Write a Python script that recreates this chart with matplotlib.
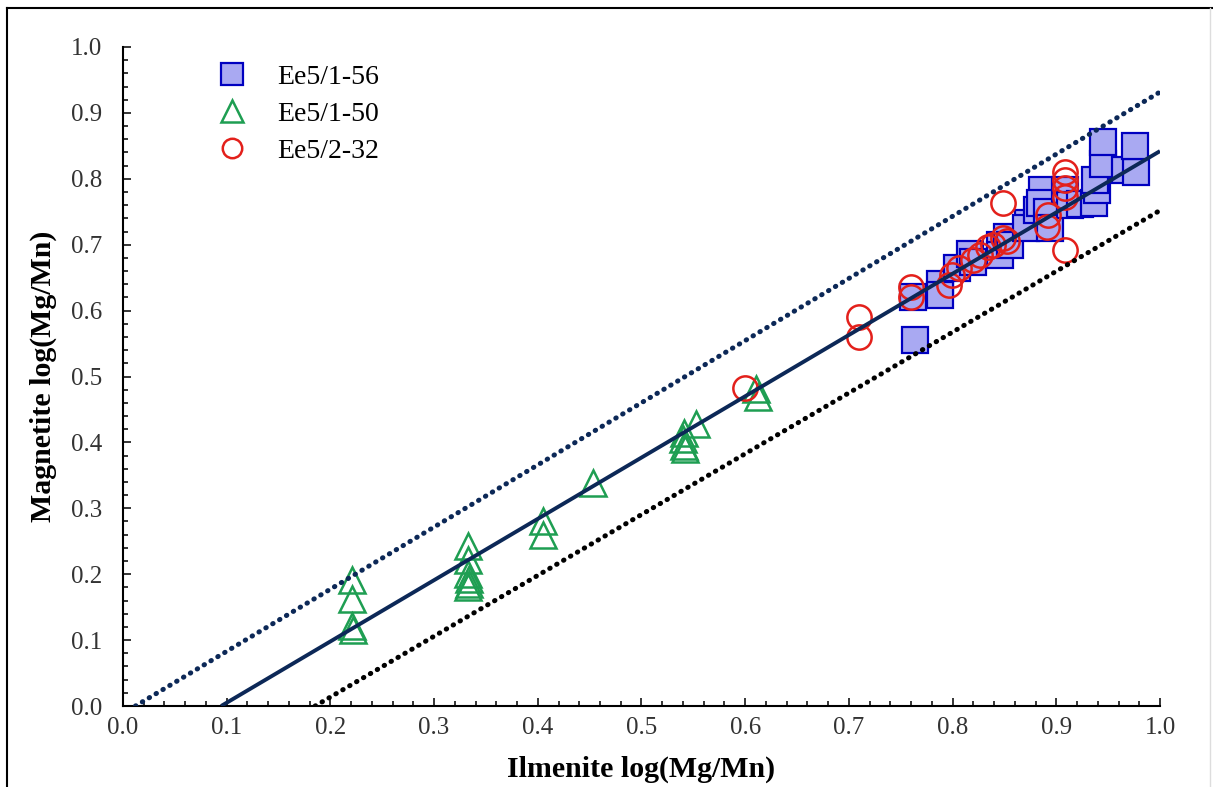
import matplotlib
matplotlib.use("Agg")
import matplotlib.pyplot as plt
from matplotlib.lines import Line2D
from matplotlib.ticker import MultipleLocator, FormatStrFormatter
import numpy as np

plt.rcParams['font.family'] = ['Liberation Serif', 'DejaVu Serif']

# Ee5/1-56 (carrés)
sq_x = [0.764, 0.762, 0.788, 0.788, 0.804, 0.817, 0.820, 0.846, 0.846, 0.852,
        0.855, 0.873, 0.871, 0.881, 0.886, 0.884, 0.891, 0.894, 0.908, 0.913,
        0.923, 0.936, 0.939, 0.937, 0.945, 0.945, 0.966, 0.977, 0.976]
sq_y = [0.555, 0.621, 0.641, 0.624, 0.664, 0.686, 0.674, 0.700, 0.684, 0.712,
        0.700, 0.733, 0.725, 0.753, 0.783, 0.763, 0.750, 0.725, 0.783, 0.760,
        0.762, 0.763, 0.783, 0.798, 0.823, 0.856, 0.813, 0.811, 0.849]

# Ee5/1-50 (triangles)
tr_x = [0.221, 0.221, 0.221, 0.222, 0.333, 0.333, 0.333, 0.334, 0.334, 0.333,
        0.405, 0.405, 0.453, 0.541, 0.540, 0.541, 0.542, 0.553, 0.610, 0.612]
tr_y = [0.191, 0.163, 0.122, 0.115, 0.243, 0.221, 0.201, 0.193, 0.185, 0.180,
        0.280, 0.259, 0.338, 0.415, 0.405, 0.395, 0.390, 0.428, 0.481, 0.469]

# Ee5/2-32 (cercles)
ci_x = [0.600, 0.710, 0.710, 0.760, 0.760, 0.797, 0.799, 0.806, 0.820, 0.826,
        0.834, 0.839, 0.849, 0.852, 0.849, 0.892, 0.891, 0.908, 0.908, 0.908,
        0.908, 0.908]
ci_y = [0.482, 0.591, 0.560, 0.636, 0.621, 0.639, 0.654, 0.664, 0.677, 0.684,
        0.697, 0.700, 0.710, 0.705, 0.763, 0.745, 0.727, 0.811, 0.798, 0.786,
        0.773, 0.692]

# droites : (pente, ordonnée à l'origine)
fit_line = (0.930, -0.088)
upper_line = (0.943, -0.0113)
lower_line = (0.923, -0.171)

navy = "#0c2857"

fig = plt.figure(figsize=(12.13, 7.87), dpi=100)
ax = fig.add_axes([0.1014, 0.1029, 0.9563 - 0.1014, 0.9403 - 0.1029])

ax.plot(sq_x, sq_y, "s", ms=19, mfc="#a9a9f2", mec="#0000c0", mew=1.6,
        label="Ee5/1-56", zorder=2)
ax.plot(tr_x, tr_y, "^", ms=19, mfc="none", mec="#1e9e52", mew=1.8,
        label="Ee5/1-50", zorder=2)
ax.plot(ci_x, ci_y, "o", ms=17.5, mfc="none", mec="#e3201b", mew=1.8,
        label="Ee5/2-32", zorder=3)


def trace_droite(ax, droite, style, coul, lw):
    a, b = droite
    x0 = max(0.0, -b / a)
    xx = np.array([x0, 1.0])
    ax.plot(xx, a * xx + b, linestyle=style, color=coul, lw=lw, zorder=4,
            dash_capstyle="round", solid_capstyle="butt")


trace_droite(ax, fit_line, "-", navy, 2.8)
trace_droite(ax, upper_line, (0, (0.1, 1.5)), navy, 3.6)
trace_droite(ax, lower_line, (0, (0.1, 1.5)), "black", 3.6)

ax.set_xlim(0, 1.0)
ax.set_ylim(0, 1.0)
ax.xaxis.set_major_locator(MultipleLocator(0.1))
ax.xaxis.set_minor_locator(MultipleLocator(0.02))
ax.yaxis.set_major_locator(MultipleLocator(0.1))
ax.yaxis.set_minor_locator(MultipleLocator(0.02))
ax.xaxis.set_major_formatter(FormatStrFormatter("%.1f"))
ax.yaxis.set_major_formatter(FormatStrFormatter("%.1f"))

for s in ["top", "right"]:
    ax.spines[s].set_visible(False)
for s in ["left", "bottom"]:
    ax.spines[s].set_linewidth(1.5)

ax.tick_params(axis="both", which="both", direction="in", width=1.1,
               labelsize=18, colors="black")
ax.tick_params(axis="both", which="major", length=6)
ax.tick_params(axis="both", which="minor", length=3.5)
ax.tick_params(axis="x", which="major", pad=8)
ax.tick_params(axis="y", which="major", pad=15)
for t in ax.get_xticklabels() + ax.get_yticklabels():
    t.set_color("#333333")

ax.set_xlabel("Ilmenite log(Mg/Mn)", fontsize=21.5, fontweight="bold",
              labelpad=12)
ax.set_ylabel("Magnetite log(Mg/Mn)", fontsize=21.5, fontweight="bold",
              labelpad=10)

leg = ax.legend(loc="upper left", bbox_to_anchor=(0.068, 1.012), frameon=False,
                fontsize=20, markerscale=0.8, handletextpad=1.1,
                labelspacing=0.42, handlelength=1.0)

# cadre de la figure
fig.add_artist(Line2D([7 / 1213, 7 / 1213], [0, 1 - 8 / 787],
                      transform=fig.transFigure, color="black", lw=1.5))
fig.add_artist(Line2D([7 / 1213, 1], [1 - 8 / 787, 1 - 8 / 787],
                      transform=fig.transFigure, color="black", lw=1.5))
fig.add_artist(Line2D([1210 / 1213, 1210 / 1213], [0, 1 - 8 / 787],
                      transform=fig.transFigure, color="#dddddd", lw=1.0))

fig.savefig("out.png", dpi=100)
